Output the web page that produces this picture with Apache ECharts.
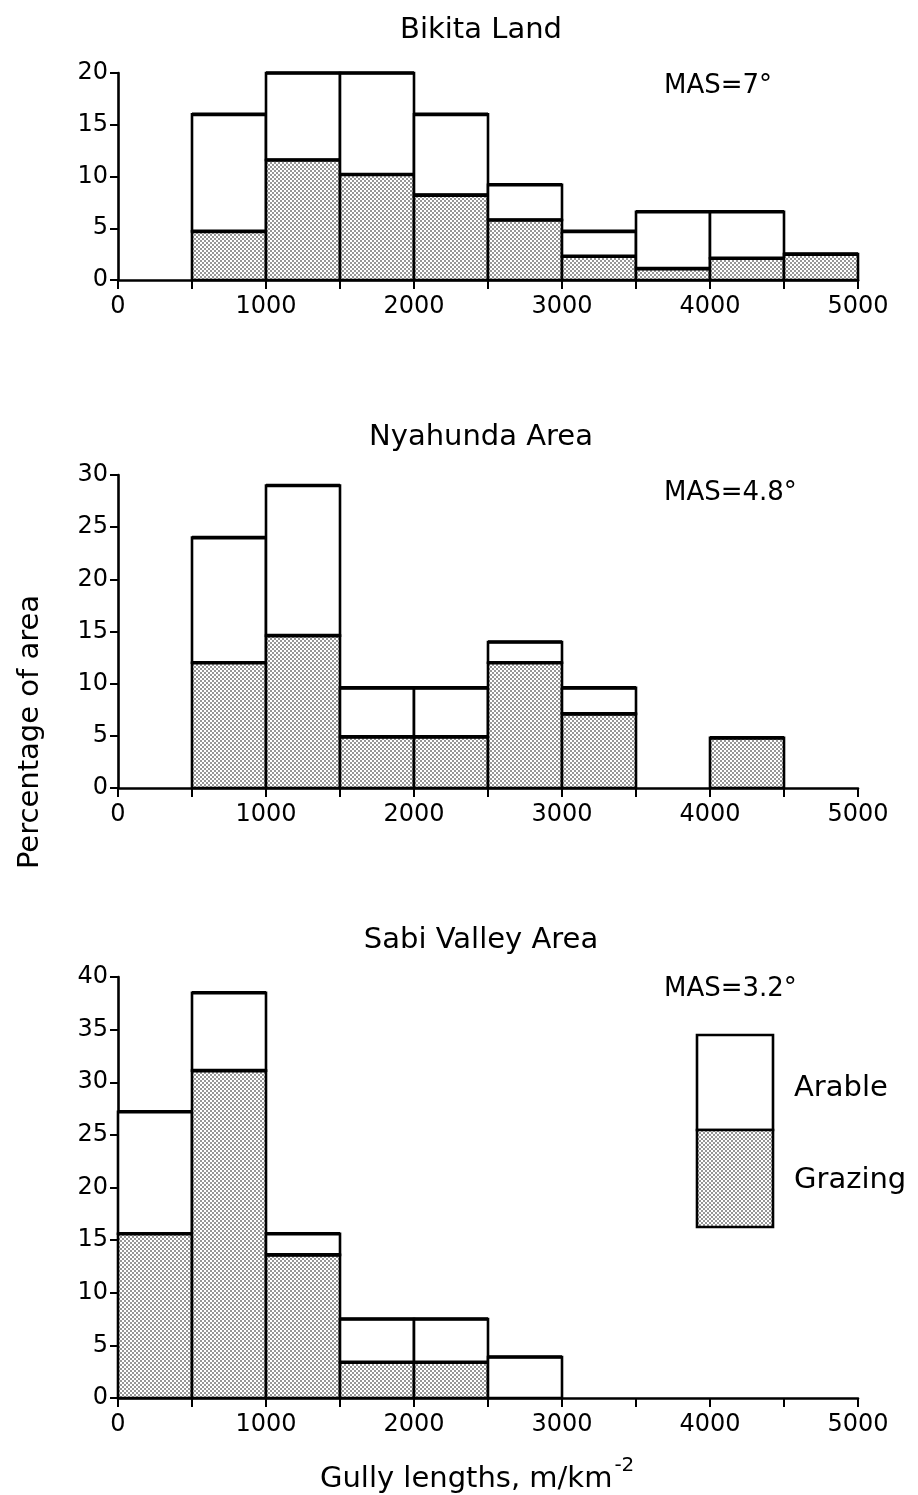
<!DOCTYPE html>
<html>
<head>
<meta charset="utf-8">
<script src="https://cdn.jsdelivr.net/npm/echarts@6/dist/echarts.min.js"></script>
<style>
html,body{margin:0;padding:0;background:#fff;}
#chart{width:918px;height:1495px;}
</style>
</head>
<body>
<div id="chart"></div>
<script>
// ---- data ----
const binStarts = [0, 500, 1000, 1500, 2000, 2500, 3000, 3500, 4000, 4500];
const binEnds   = [500, 1000, 1500, 2000, 2500, 3000, 3500, 4000, 4500, 5000];
const xTickLabels = [0, 1000, 2000, 3000, 4000, 5000];

const panelTitles = ['Bikita Land', 'Nyahunda Area', 'Sabi Valley Area'];
const masLabels = ['MAS=7°', 'MAS=4.8°', 'MAS=3.2°'];
const yMax = [20, 30, 40];

const bikitaTotal   = [0, 16, 20, 20, 16, 9.2, 4.7, 6.6, 6.6, 2.5];
const bikitaGrazing = [0, 4.7, 11.6, 10.2, 8.2, 5.8, 2.3, 1.1, 2.1, 2.5];

const nyahundaTotal   = [0, 24, 29, 9.6, 9.6, 14, 9.6, 0, 4.8, 0];
const nyahundaGrazing = [0, 12, 14.6, 4.9, 4.9, 12, 7.1, 0, 4.8, 0];

const sabiTotal   = [27.2, 38.5, 15.6, 7.5, 7.5, 3.9, 0, 0, 0, 0];
const sabiGrazing = [15.6, 31.1, 13.6, 3.4, 3.4, 0, 0, 0, 0, 0];

const legendLabels = ['Arable', 'Grazing'];
const xAxisTitle = 'Gully lengths, m/km';
const xAxisTitleSup = '-2';
const yAxisTitle = 'Percentage of area';

// ---- stipple pattern ----
const pc = document.createElement('canvas');
pc.width = 4; pc.height = 4;
const pctx = pc.getContext('2d');
pctx.fillStyle = '#ffffff';
pctx.fillRect(0, 0, 4, 4);
pctx.fillStyle = '#111111';
pctx.beginPath(); pctx.arc(1, 1, 0.8, 0, Math.PI * 2); pctx.fill();
pctx.beginPath(); pctx.arc(3, 3, 0.8, 0, Math.PI * 2); pctx.fill();
const stipple = { image: pc, repeat: 'repeat' };

const FONT = 'DejaVu Sans';
const grids = [
  { left: 118, right: 60, top: 73, height: 207 },
  { left: 118, right: 60, top: 475, height: 313 },
  { left: 118, right: 60, top: 977, height: 421 }
];

const totals = [bikitaTotal, nyahundaTotal, sabiTotal];
const grazings = [bikitaGrazing, nyahundaGrazing, sabiGrazing];

function buildData(tot, gr) {
  return binStarts.map((s, i) => [s, binEnds[i], tot[i], gr[i]]);
}

function renderItem(params, api) {
  const x0 = api.value(0), x1 = api.value(1), tot = api.value(2), gr = api.value(3);
  const children = [];
  const lw = 2.6;
  if (tot > gr) {
    const a = api.coord([x0, tot]);
    const b = api.coord([x1, gr]);
    children.push({
      type: 'rect',
      shape: { x: a[0], y: a[1], width: b[0] - a[0], height: b[1] - a[1] },
      style: { fill: '#ffffff', stroke: '#000', lineWidth: lw }
    });
    children.push({
      type: 'line',
      shape: { x1: a[0], y1: a[1], x2: b[0], y2: a[1] },
      style: { stroke: '#000', lineWidth: 3.6 }
    });
  }
  if (gr > 0) {
    const a = api.coord([x0, gr]);
    const b = api.coord([x1, 0]);
    children.push({
      type: 'rect',
      shape: { x: a[0], y: a[1], width: b[0] - a[0], height: b[1] - a[1] },
      style: { fill: stipple, stroke: '#000', lineWidth: lw }
    });
    children.push({
      type: 'line',
      shape: { x1: a[0], y1: a[1], x2: b[0], y2: a[1] },
      style: { stroke: '#000', lineWidth: 3.6 }
    });
  }
  return { type: 'group', children };
}

const xAxes = grids.map((g, i) => ({
  type: 'value', gridIndex: i, min: 0, max: 5000, interval: 500,
  axisLine: { lineStyle: { color: '#000', width: 2.6 } },
  axisTick: { show: true, length: 9, lineStyle: { color: '#000', width: 2 } },
  axisLabel: {
    color: '#000', fontFamily: FONT, fontSize: 24, margin: 15,
    formatter: v => (xTickLabels.indexOf(v) >= 0 ? String(v) : '')
  },
  splitLine: { show: false }
}));

const yAxes = grids.map((g, i) => ({
  type: 'value', gridIndex: i, min: 0, max: yMax[i], interval: 5,
  axisLine: { show: true, lineStyle: { color: '#000', width: 2.6 } },
  axisTick: { show: true, length: 8, lineStyle: { color: '#000', width: 2 } },
  axisLabel: { color: '#000', fontFamily: FONT, fontSize: 24, margin: 10 },
  splitLine: { show: false }
}));

const series = grids.map((g, i) => ({
  type: 'custom', xAxisIndex: i, yAxisIndex: i,
  renderItem: renderItem,
  encode: { x: [0, 1], y: [2, 3] },
  data: buildData(totals[i], grazings[i]),
  clip: false
}));

const titleY = [30, 437, 940];
const masY = [86, 493, 989];
const graphic = [];
panelTitles.forEach((t, i) => {
  graphic.push({
    type: 'text', x: 481, y: titleY[i],
    style: { text: t, fontFamily: FONT, fontSize: 29, fill: '#000', align: 'center', verticalAlign: 'middle' }
  });
  graphic.push({
    type: 'text', x: 664, y: masY[i],
    style: { text: masLabels[i], fontFamily: FONT, fontSize: 26, fill: '#000', align: 'left', verticalAlign: 'middle' }
  });
});

// legend box
graphic.push({
  type: 'rect', x: 697, y: 1035,
  shape: { width: 76, height: 95 },
  style: { fill: '#fff', stroke: '#000', lineWidth: 2.6 }
});
graphic.push({
  type: 'rect', x: 697, y: 1130,
  shape: { width: 76, height: 97 },
  style: { fill: stipple, stroke: '#000', lineWidth: 2.6 }
});
graphic.push({
  type: 'text', x: 794, y: 1088,
  style: { text: legendLabels[0], fontFamily: FONT, fontSize: 29, fill: '#000', verticalAlign: 'middle' }
});
graphic.push({
  type: 'text', x: 794, y: 1180,
  style: { text: legendLabels[1], fontFamily: FONT, fontSize: 29, fill: '#000', verticalAlign: 'middle' }
});

// x axis title
graphic.push({
  type: 'text', x: 320, y: 1456,
  style: {
    text: '{m|' + xAxisTitle + '}{s|' + xAxisTitleSup + '}',
    rich: {
      m: { fontFamily: FONT, fontSize: 29, fill: '#000', color: '#000', verticalAlign: 'bottom', lineHeight: 38 },
      s: { fontFamily: FONT, fontSize: 20, fill: '#000', color: '#000', verticalAlign: 'top', lineHeight: 38, padding: [0, 0, 24, 2] }
    }
  }
});

// y axis title
graphic.push({
  type: 'text', x: 30, y: 732,
  rotation: Math.PI / 2,
  style: { text: yAxisTitle, fontFamily: FONT, fontSize: 29, fill: '#000', align: 'center', verticalAlign: 'middle' }
});

const chart = echarts.init(document.getElementById('chart'), null, { renderer: 'canvas' });
chart.setOption({
  backgroundColor: '#ffffff',
  animation: false,
  grid: grids,
  xAxis: xAxes,
  yAxis: yAxes,
  series: series,
  graphic: graphic
});
</script>
</body>
</html>
